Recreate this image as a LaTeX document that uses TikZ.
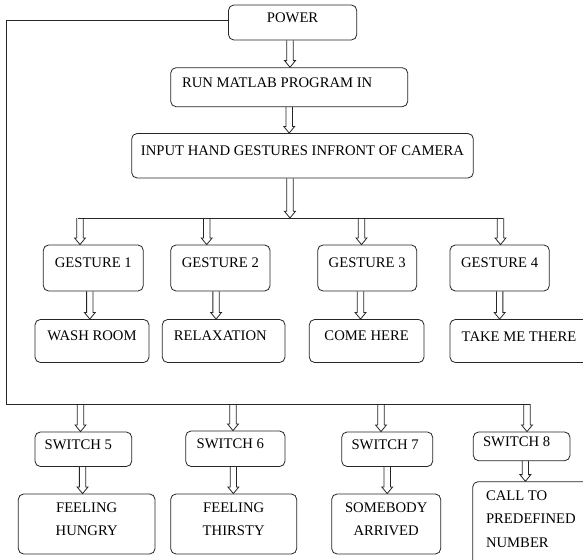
\documentclass[tikz,border=0pt]{standalone}
\usepackage{fontspec}
\setmainfont{Liberation Serif}
\usetikzlibrary{calc,fit}
\newcommand{\padr}[1]{\rule{#1}{0pt}}
\begin{document}
\begin{tikzpicture}[x=0.75pt,y=-0.75pt,
  line width=0.6pt,
  box/.style={draw=black!85, rounded corners=4pt, inner sep=0pt,
    font=\fontsize{11}{17.5}\selectfont},
  one/.style={text height=7.3pt, text depth=#1},
  barrow/.style={draw=black!85, to path={let \p1=(\tikztostart), \p2=(\tikztotarget) in
    (\x1-2.4pt,\y1) -- (\x1-2.4pt,\y2+5pt) -- (\x1-4.1pt,\y2+5pt) -- (\x1,\y2)
    -- (\x1+4.1pt,\y2+5pt) -- (\x1+2.4pt,\y2+5pt) -- (\x1+2.4pt,\y1)}},
  ]
\useasboundingbox[fill=white] (0,0) rectangle (583,560);
\clip (0,0) rectangle (583,560);

% top chain
\node[box, one=1.5pt, fit={(228.5,5)(356.7,40)}] (power) {POWER};
\node[box, one=0.75pt, fit={(170.7,67.7)(407.7,106.7)}] (run) {RUN MATLAB PROGRAM IN\padr{18pt}};
\node[box, one=8.25pt, fit={(131.7,133.5)(473.3,178)}] (input) {INPUT HAND GESTURES INFRONT OF CAMERA};

% gestures
\node[box, one=8.25pt, fit={(43.3,245)(143.3,291)}] (g1) {GESTURE 1};
\node[box, one=8.25pt, fit={(170.7,245)(270,291)}] (g2) {GESTURE 2};
\node[box, one=8.25pt, fit={(317.7,245)(416.7,291)}] (g3) {GESTURE 3};
\node[box, one=8.25pt, fit={(450,245)(549.3,291)}] (g4) {GESTURE 4};

% results
\node[box, one=6.5pt, fit={(35,319.5)(149,362.5)}] (r1) {WASH ROOM};
\node[box, one=6.5pt, fit={(162.3,319.5)(285,362.5)}] (r2) {RELAXATION\padr{5pt}};
\node[box, one=6.5pt, fit={(309.3,319.5)(424,362.5)}] (r3) {COME HERE};
\node[box, one=6.5pt, fit={(450,319.5)(588,362.5)}] (r4) {TAKE ME THERE};

% switches
\node[box, text height=8.1pt, text depth=0pt, fit={(35,432)(131.7,466.5)}] (s1) {SWITCH 5\padr{7.5pt}};
\node[box, text height=8.1pt, text depth=0pt, fit={(185.7,431)(285,466.5)}] (s2) {SWITCH 6\padr{7.5pt}};
\node[box, text height=8.1pt, text depth=0pt, fit={(341.7,432)(432.7,466.5)}] (s3) {SWITCH 7\padr{3pt}};
\node[box, text height=9.9pt, text depth=0pt, fit={(473.3,432)(570,460.7)}] (s4) {SWITCH 8\padr{7.5pt}};

% final boxes
\node[box, align=center, fit={(18.3,494)(155,554)}] (f1) {FEELING\\HUNGRY};
\node[box, align=center, fit={(170.7,494)(296.7,554)}] (f2) {FEELING\\THIRSTY};
\node[box, align=center, fit={(331.7,494)(440.7,554)}] (f3) {SOMEBODY\\ARRIVED};
\node[box, text height=7.3pt, text depth=33.2pt, fit={(472.7,481.7)(590,566)}] (f4)
  {\parbox[t]{68pt}{\raggedright CALL TO\\PREDEFINED\\NUMBER}};

% distribution line to gestures
\coordinate (hl1) at (77.7,218);
\coordinate (hl2) at (503,218);
\coordinate (t1) at (80,218);
\coordinate (t2) at (206.7,218);
\coordinate (t3) at (361.5,218);
\coordinate (t4) at (500.5,218);

% loop line to switches
\coordinate (lc) at (6.7,404);
\coordinate (le) at (530,404);
\coordinate (b1) at (80.5,404);
\coordinate (b2) at (233,404);
\coordinate (b3) at (381,404);
\coordinate (b4) at (527,404);

% connectors
\draw[barrow] ([xshift=-1.95pt]power.south) to (run.north);
\draw[barrow] (run.south) to (input.north);
\draw[barrow] ([xshift=-9.4pt]input.south) to (hl1);
\draw[black!85] (hl1) -- (hl2);
\draw[barrow] (t1) to (g1.north);
\draw[barrow] (t2) to (g2.north);
\draw[barrow] (t3) to (g3.north);
\draw[barrow] (t4) to (g4.north);
\draw[barrow] ([xshift=-2.6pt]g1.south) to (r1.north);
\draw[barrow] ([xshift=-3.2pt]g2.south) to (r2.north);
\draw[barrow] ([xshift=-5pt]g3.south) to (r3.north);
\draw[barrow] (g4.south) to (r4.north);

\draw[black!85] ([yshift=1.9pt]power.west) -| (lc) -- (le);
\draw[barrow] (b1) to (s1.north);
\draw[barrow] (b2) to (s2.north);
\draw[barrow] (b3) to (s3.north);
\draw[barrow] (b4) to (s4.north);
\draw[barrow] ([xshift=-0.6pt]s1.south) to (f1.north);
\draw[barrow] ([xshift=-1.5pt]s2.south) to (f2.north);
\draw[barrow] (s3.south) to (f3.north);
\draw[barrow] ([xshift=2.8pt]s4.south) to (f4.north);
\end{tikzpicture}
\end{document}
